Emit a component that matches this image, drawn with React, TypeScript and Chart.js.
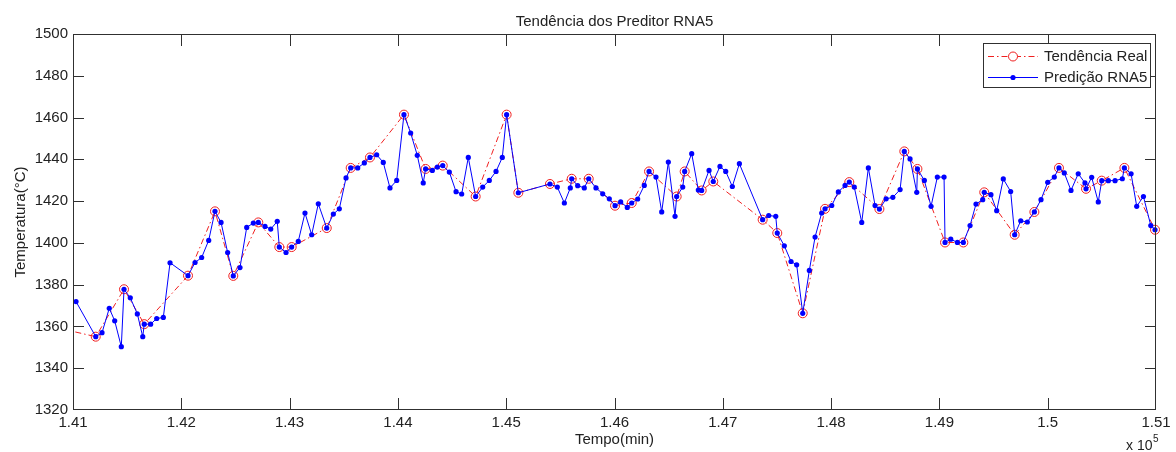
import React, { useEffect, useRef } from 'react';
import { Chart, registerables } from 'chart.js';

Chart.register(...registerables);

// ---- data (time in minutes, temperature in °C) ----
const predTime = [
  141028, 141210, 141268, 141335, 141385, 141446, 141471, 141529, 141594, 141644,
  141658, 141717, 141773, 141834, 141896, 142062, 142127, 142188, 142253, 142311,
  142367, 142428, 142480, 142542, 142604, 142665, 142711, 142773, 142826, 142886,
  142905, 142967, 143019, 143080, 143142, 143204, 143265, 143343, 143404, 143459,
  143521, 143564, 143629, 143690, 143742, 143804, 143865, 143927, 143989, 144056,
  144118, 144179, 144234, 144256, 144318, 144364, 144414, 144475, 144537, 144589,
  144650, 144718, 144783, 144844, 144906, 144964, 145004, 145112, 145404, 145472,
  145537, 145592, 145605, 145660, 145721, 145762, 145829, 145891, 145952, 146005,
  146057, 146118, 146159, 146214, 146275, 146319, 146383, 146436, 146497, 146559,
  146574, 146630, 146648, 146713, 146774, 146805, 146873, 146912, 146974, 147027,
  147088, 147153, 147368, 147424, 147489, 147503, 147568, 147630, 147682, 147738,
  147799, 147852, 147913, 147944, 148006, 148067, 148129, 148168, 148214, 148283,
  148344, 148406, 148446, 148508, 148570, 148637, 148676, 148729, 148791, 148797,
  148861, 148923, 148981, 149043, 149052, 149105, 149166, 149221, 149283, 149338,
  149400, 149414, 149476, 149529, 149590, 149658, 149695, 149751, 149812, 149877,
  149938, 150000, 150061, 150104, 150153, 150215, 150282, 150344, 150354, 150406,
  150467, 150499, 150560, 150622, 150689, 150708, 150770, 150822, 150884, 150952, 150991,
];
const predTemp = [
  1371.9, 1355.1, 1357.0, 1368.7, 1362.7, 1350.3, 1377.8, 1373.7, 1366.0, 1355.1,
  1361.1, 1361.1, 1363.8, 1364.3, 1390.5, 1384.3, 1390.6, 1393.0, 1401.2, 1415.1,
  1409.8, 1395.4, 1384.2, 1388.2, 1407.4, 1409.5, 1409.8, 1407.9, 1406.6, 1410.3,
  1398.0, 1395.4, 1398.0, 1400.7, 1414.3, 1403.9, 1418.7, 1407.1, 1413.8, 1416.3,
  1431.1, 1435.9, 1435.9, 1438.3, 1440.9, 1442.2, 1438.5, 1426.3, 1429.9, 1461.4,
  1452.6, 1441.9, 1428.7, 1435.4, 1434.7, 1436.3, 1437.0, 1433.9, 1424.5, 1423.4,
  1440.9, 1422.2, 1426.7, 1429.9, 1434.2, 1440.9, 1461.4, 1424.0, 1428.2, 1426.7,
  1419.1, 1426.3, 1430.7, 1427.4, 1426.3, 1430.7, 1426.3, 1423.5, 1421.1, 1417.8,
  1419.6, 1417.0, 1419.1, 1421.0, 1427.5, 1434.2, 1431.5, 1414.8, 1438.7, 1412.7,
  1422.2, 1426.7, 1434.2, 1442.7, 1425.3, 1425.1, 1434.7, 1429.4, 1436.6, 1434.2,
  1427.0, 1437.9, 1411.1, 1413.1, 1412.7, 1404.7, 1398.6, 1391.1, 1389.5, 1366.3,
  1386.8, 1402.8, 1414.3, 1416.3, 1417.9, 1424.4, 1427.5, 1429.1, 1426.7, 1409.8,
  1435.9, 1417.9, 1416.2, 1421.1, 1421.8, 1425.5, 1443.8, 1440.2, 1424.2, 1435.4,
  1429.9, 1417.5, 1431.5, 1431.5, 1400.2, 1401.8, 1400.2, 1400.2, 1408.3, 1418.6,
  1420.7, 1424.2, 1423.1, 1415.4, 1430.6, 1424.6, 1403.9, 1410.6, 1410.0, 1414.8,
  1420.7, 1429.0, 1431.5, 1435.9, 1433.5, 1425.1, 1433.1, 1428.7, 1425.9, 1431.4,
  1419.6, 1429.8, 1429.8, 1429.8, 1430.7, 1435.9, 1433.1, 1417.5, 1422.2, 1408.3, 1406.3,
];
const realTime = [
  140900, 141210, 141471, 141658, 142062, 142311, 142480, 142711, 142905, 143019,
  143343, 143564, 143742, 144056, 144256, 144414, 144718, 145004, 145112, 145404,
  145605, 145762, 146005, 146159, 146319, 146574, 146648, 146805, 146912, 147368,
  147503, 147738, 147944, 148168, 148446, 148676, 148797, 149052, 149221, 149414,
  149695, 149877, 150104, 150354, 150499, 150708, 150991,
];
const realTemp = [
  1358.8, 1355.1, 1377.8, 1361.1, 1384.3, 1415.1, 1384.2, 1409.8, 1398.0, 1398.0,
  1407.1, 1435.9, 1440.9, 1461.4, 1435.4, 1437.0, 1422.2, 1461.4, 1424.0, 1428.2,
  1430.7, 1430.7, 1417.8, 1419.1, 1434.2, 1422.2, 1434.2, 1425.1, 1429.4, 1411.1,
  1404.7, 1366.3, 1416.3, 1429.1, 1416.2, 1443.8, 1435.4, 1400.2, 1400.2, 1424.2,
  1403.9, 1414.8, 1435.9, 1425.9, 1429.8, 1435.9, 1406.3,
];
const xTickValues = [141000, 142000, 143000, 144000, 145000, 146000, 147000, 148000, 149000, 150000, 151000];
const xTickLabels = ['1.41', '1.42', '1.43', '1.44', '1.45', '1.46', '1.47', '1.48', '1.49', '1.5', '1.51'];
const yTickValues = [1320, 1340, 1360, 1380, 1400, 1420, 1440, 1460, 1480, 1500];
const yTickLabels = ['1320', '1340', '1360', '1380', '1400', '1420', '1440', '1460', '1480', '1500'];

const titleText = 'Tendência dos Preditor RNA5';
const xTitle = 'Tempo(min)';
const yTitle = 'Temperatura(°C)';
const realLabel = 'Tendência Real';
const predLabel = 'Predição RNA5';

const FONT = '"Liberation Sans", Arial, Helvetica, sans-serif';
const TEXT_COLOR = '#222222';
const AXIS_COLOR = '#303030';
const BLUE = '#0000ff';
const RED = '#f02020';

const decorPlugin = {
  id: 'decor',
  afterDraw(chart: any) {
    const { ctx, chartArea: a, scales } = chart;
    const xs = scales.x;
    const ys = scales.y;
    ctx.save();
    ctx.setLineDash([]);
    ctx.globalAlpha = 1;
    // box
    ctx.fillStyle = AXIS_COLOR;
    const L = Math.round(a.left), R = Math.round(a.right), T = Math.round(a.top), B = Math.round(a.bottom);
    ctx.fillRect(L, T, R - L, 1);
    ctx.fillRect(L, B - 1, R - L, 1);
    ctx.fillRect(L, T, 1, B - T);
    ctx.fillRect(R - 1, T, 1, B - T);
    // inward ticks
    for (let i = 1; i < xTickValues.length - 1; i++) {
      const px = Math.round(xs.getPixelForValue(xTickValues[i]));
      ctx.fillRect(px, B - 12, 1, 12);
      ctx.fillRect(px, T, 1, 12);
    }
    for (let i = 1; i < yTickValues.length - 1; i++) {
      const py = Math.round(ys.getPixelForValue(yTickValues[i]));
      ctx.fillRect(L, py, 11, 1);
      ctx.fillRect(R - 11, py, 11, 1);
    }

    // titles
    ctx.fillStyle = TEXT_COLOR;
    ctx.font = `15px ${FONT}`;
    ctx.textAlign = 'center';
    ctx.textBaseline = 'alphabetic';
    const cx = (a.left + a.right) / 2;
    ctx.fillText(titleText, cx, 26);
    ctx.fillText(xTitle, cx, 444);
    ctx.save();
    ctx.translate(25, (a.top + a.bottom) / 2);
    ctx.rotate(-Math.PI / 2);
    ctx.fillText(yTitle, 0, 0);
    ctx.restore();
    // x 10^5
    ctx.textAlign = 'left';
    ctx.font = `14px ${FONT}`;
    ctx.fillText('x 10', 1126, 450);
    ctx.font = `10px ${FONT}`;
    ctx.fillText('5', 1153, 442);

    // legend
    const lx = 983, ly = 43, lw = 168, lh = 45;
    ctx.fillStyle = '#ffffff';
    ctx.fillRect(lx, ly, lw, lh);
    ctx.strokeStyle = AXIS_COLOR;
    ctx.lineWidth = 1;
    ctx.strokeRect(lx + 0.5, ly + 0.5, lw - 1, lh - 1);
    const r1 = 56.5, r2 = 77.5;
    // red entry
    ctx.strokeStyle = RED;
    ctx.setLineDash([6, 3, 1.5, 3]);
    ctx.beginPath();
    ctx.moveTo(988, r1);
    ctx.lineTo(1038, r1);
    ctx.stroke();
    ctx.setLineDash([]);
    ctx.beginPath();
    ctx.arc(1013, r1, 4.5, 0, Math.PI * 2);
    ctx.fillStyle = '#ffffff';
    ctx.fill();
    ctx.stroke();
    // blue entry
    ctx.strokeStyle = BLUE;
    ctx.beginPath();
    ctx.moveTo(988, r2);
    ctx.lineTo(1038, r2);
    ctx.stroke();
    ctx.fillStyle = BLUE;
    ctx.beginPath();
    ctx.arc(1013, r2, 2.6, 0, Math.PI * 2);
    ctx.fill();
    // legend text
    ctx.fillStyle = TEXT_COLOR;
    ctx.font = `15px ${FONT}`;
    ctx.textAlign = 'left';
    ctx.textBaseline = 'middle';
    ctx.fillText(realLabel, 1044, r1);
    ctx.fillText(predLabel, 1044, r2);
    ctx.restore();
  },
};

export default function App() {
  const canvasRef = useRef<HTMLCanvasElement | null>(null);

  useEffect(() => {
    const canvas = canvasRef.current;
    if (!canvas) return;
    const predData = predTime.map((t, i) => ({ x: t, y: predTemp[i] }));
    const realData = realTime.map((t, i) => ({ x: t, y: realTemp[i] }));
    const chart = new Chart(canvas, {
      type: 'line',
      data: {
        datasets: [
          {
            label: predLabel,
            data: predData,
            borderColor: BLUE,
            borderWidth: 1,
            pointRadius: 2.6,
            pointBackgroundColor: BLUE,
            pointBorderColor: BLUE,
            pointBorderWidth: 0,
            tension: 0,
            order: 0,
            clip: { left: 0, right: 3, top: 5, bottom: 5 },
          } as any,
          {
            label: realLabel,
            data: realData,
            borderColor: RED,
            borderWidth: 1,
            borderDash: [6, 3, 1.5, 3],
            pointRadius: 4.5,
            pointBackgroundColor: 'rgba(0,0,0,0)',
            pointBorderColor: RED,
            pointBorderWidth: 1,
            tension: 0,
            order: 1,
            clip: { left: 0, right: 5, top: 5, bottom: 5 },
          } as any,
        ],
      },
      options: {
        animation: false,
        responsive: false,
        maintainAspectRatio: false,
        layout: { padding: { left: 0, right: 20, top: 34, bottom: 0 } },
        plugins: {
          legend: { display: false },
          title: { display: false },
          tooltip: { enabled: false },
        },
        scales: {
          x: {
            type: 'linear',
            min: 141000,
            max: 151000,
            grid: { display: false, drawTicks: false },
            border: { display: false },
            afterBuildTicks: (s: any) => {
              s.ticks = xTickValues.map((v) => ({ value: v }));
            },
            afterFit: (s: any) => {
              s.height = 42;
            },
            ticks: {
              autoSkip: false,
              maxRotation: 0,
              padding: 4,
              color: TEXT_COLOR,
              font: { family: FONT, size: 15 },
              callback: (_v: any, i: number) => xTickLabels[i],
            },
          },
          y: {
            type: 'linear',
            min: 1320,
            max: 1500,
            grid: { display: false, drawTicks: false },
            border: { display: false },
            afterBuildTicks: (s: any) => {
              s.ticks = yTickValues.map((v) => ({ value: v }));
            },
            afterFit: (s: any) => {
              s.width = 73;
            },
            ticks: {
              autoSkip: false,
              padding: 5,
              color: TEXT_COLOR,
              font: { family: FONT, size: 15 },
              callback: (_v: any, i: number) => yTickLabels[i],
            },
          },
        },
      } as any,
      plugins: [decorPlugin],
    });
    return () => chart.destroy();
  }, []);

  return (
    <div style={{ position: 'fixed', left: 0, top: 0, width: 1176, height: 452, background: '#ffffff' }}>
      <canvas ref={canvasRef} width={1176} height={452} style={{ display: 'block', width: 1176, height: 452 }} />
    </div>
  );
}
